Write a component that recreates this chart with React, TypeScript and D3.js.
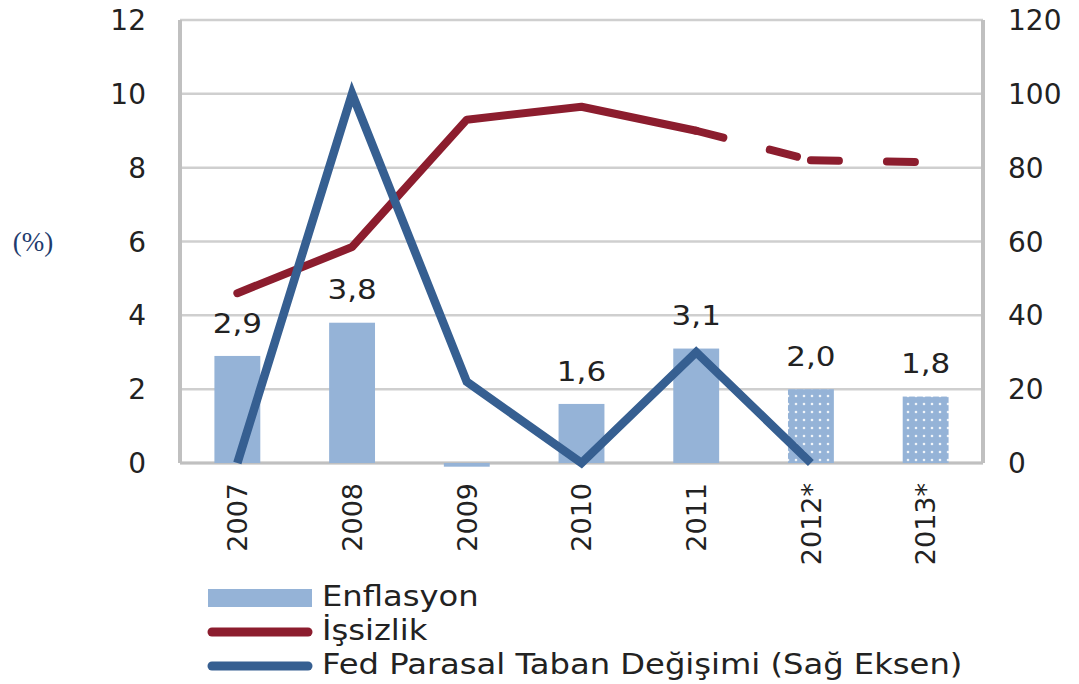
import React from 'react';
import * as d3 from 'd3';

const years = ['2007', '2008', '2009', '2010', '2011', '2012*', '2013*'];
const enflasyon = [2.9, 3.8, -0.1, 1.6, 3.1, 2.0, 1.8];
const enflasyonLabels = ['2,9', '3,8', '', '1,6', '3,1', '2,0', '1,8'];
const forecast = [false, false, false, false, false, true, true];
const issizlik = [4.6, 5.85, 9.3, 9.65, 9.0, 8.2, 8.15];
const fedYears = ['2007', '2008', '2009', '2010', '2011', '2012*'];
const fedDegisim = [0, 100, 22, 0, 30, 0];
const leftTicks = [0, 2, 4, 6, 8, 10, 12];
const rightTicks = [0, 20, 40, 60, 80, 100, 120];
const legendItems = ['Enflasyon', 'İşsizlik', 'Fed Parasal Taban Değişimi (Sağ Eksen)'];

const W = 1079;
const H = 684;
const font = '"DejaVu Sans", Verdana, sans-serif';
const barColor = '#95b3d7';
const redColor = '#8c1d2e';
const blueColor = '#365f91';
const gridColor = '#cfcfcf';
const textColor = '#222';
const stretch = 1.15; // Verdana is wider than DejaVu

export default function App() {
  const left = 180, right = 983, top = 20, bottom = 463;

  const x = d3.scaleBand<string>().domain(years).range([left, right]).paddingInner(0.6).paddingOuter(0.3);
  const cx = (c: string) => (x(c) ?? 0) + x.bandwidth() / 2;
  const yL = d3.scaleLinear().domain([0, 12]).range([bottom, top]);
  const yR = d3.scaleLinear().domain([0, 120]).range([bottom, top]);

  const lineL = d3.line<number>().x((_, i) => cx(years[i])).y(d => yL(d));
  const fedLine = d3.line<number>().x((_, i) => cx(fedYears[i])).y(d => yR(d));

  // solid up to 2011, then dashed per segment (Excel restarts the dash at each point)
  const solidPart = issizlik.slice(0, 5);
  const dashed = [4, 5].map(a =>
    `M${cx(years[a])},${yL(issizlik[a])}L${cx(years[a + 1])},${yL(issizlik[a + 1])}`);

  const legendY = [598, 632, 666];

  return (
    <svg width={W} height={H} style={{ position: 'absolute', left: 0, top: 0, background: '#fff' }}>
      <defs>
        <pattern id="dots" width={8} height={8} patternUnits="userSpaceOnUse">
          <rect width={8} height={8} fill={barColor} />
          <circle cx={4} cy={4} r={1.3} fill="#fff" opacity={0.85} />
        </pattern>
      </defs>

      {/* grid + frame */}
      {leftTicks.map(t => (
        <line key={t} x1={left} x2={right} y1={yL(t)} y2={yL(t)} stroke={gridColor} strokeWidth={2.5} />
      ))}
      <line x1={left} x2={left} y1={top} y2={bottom} stroke="#c0c0c0" strokeWidth={4} />
      <line x1={right} x2={right} y1={top} y2={bottom} stroke="#c0c0c0" strokeWidth={4} />
      <line x1={left} x2={right} y1={bottom} y2={bottom} stroke="#c0c0c0" strokeWidth={3} />

      {/* axis labels */}
      {leftTicks.map(t => (
        <text key={t} x={146} y={yL(t)} dy="0.36em" textAnchor="end" fontFamily={font} fontSize={28} fill={textColor}>{t}</text>
      ))}
      {rightTicks.map(t => (
        <text key={t} x={1008} y={yR(t)} dy="0.36em" textAnchor="start" fontFamily={font} fontSize={28} fill={textColor}>{t}</text>
      ))}
      <text x={33} y={242} dy="0.33em" textAnchor="middle" fontFamily='"Liberation Serif", serif' fontSize={27} fill="#1f3c6e">(%)</text>

      {years.map(c => (
        <text key={c} transform={`translate(${cx(c)},${bottom + 20}) rotate(-90)`} dy="0.36em" textAnchor="end" fontFamily={font} fontSize={27} fill={textColor}>{c}</text>
      ))}

      {/* Enflasyon bars */}
      {enflasyon.map((v, i) => (
        <rect key={i} x={x(years[i])} width={x.bandwidth()} y={yL(Math.max(0, v))} height={Math.abs(yL(v) - yL(0))}
          fill={forecast[i] ? 'url(#dots)' : barColor} />
      ))}
      {enflasyon.map((v, i) => enflasyonLabels[i] ? (
        <text key={i} transform={`translate(${cx(years[i])},${yL(v) - 33}) scale(${stretch},1)`} dy="0.36em" textAnchor="middle"
          fontFamily={font} fontSize={27} fill={textColor}>{enflasyonLabels[i]}</text>
      ) : null)}

      {/* İşsizlik */}
      <path d={lineL(solidPart) ?? ''} fill="none" stroke={redColor} strokeWidth={8} strokeLinecap="round" strokeLinejoin="round" />
      {dashed.map((d, i) => (
        <path key={i} d={d} fill="none" stroke={redColor} strokeWidth={8} strokeLinecap="round" strokeDasharray="28 48" />
      ))}

      {/* Fed */}
      <path d={fedLine(fedDegisim) ?? ''} fill="none" stroke={blueColor} strokeWidth={8.5} strokeLinejoin="miter" strokeMiterlimit={4} />

      {/* legend */}
      <rect x={208} y={legendY[0] - 9} width={104} height={18} fill={barColor} />
      <line x1={212} x2={308} y1={legendY[1]} y2={legendY[1]} stroke={redColor} strokeWidth={9} strokeLinecap="round" />
      <line x1={212} x2={308} y1={legendY[2]} y2={legendY[2]} stroke={blueColor} strokeWidth={9} strokeLinecap="round" />
      {legendItems.map((t, i) => (
        <text key={t} transform={`translate(322,${legendY[i] - 2}) scale(${stretch},1)`} dy="0.36em" fontFamily={font} fontSize={28} fill={textColor}>{t}</text>
      ))}
    </svg>
  );
}
